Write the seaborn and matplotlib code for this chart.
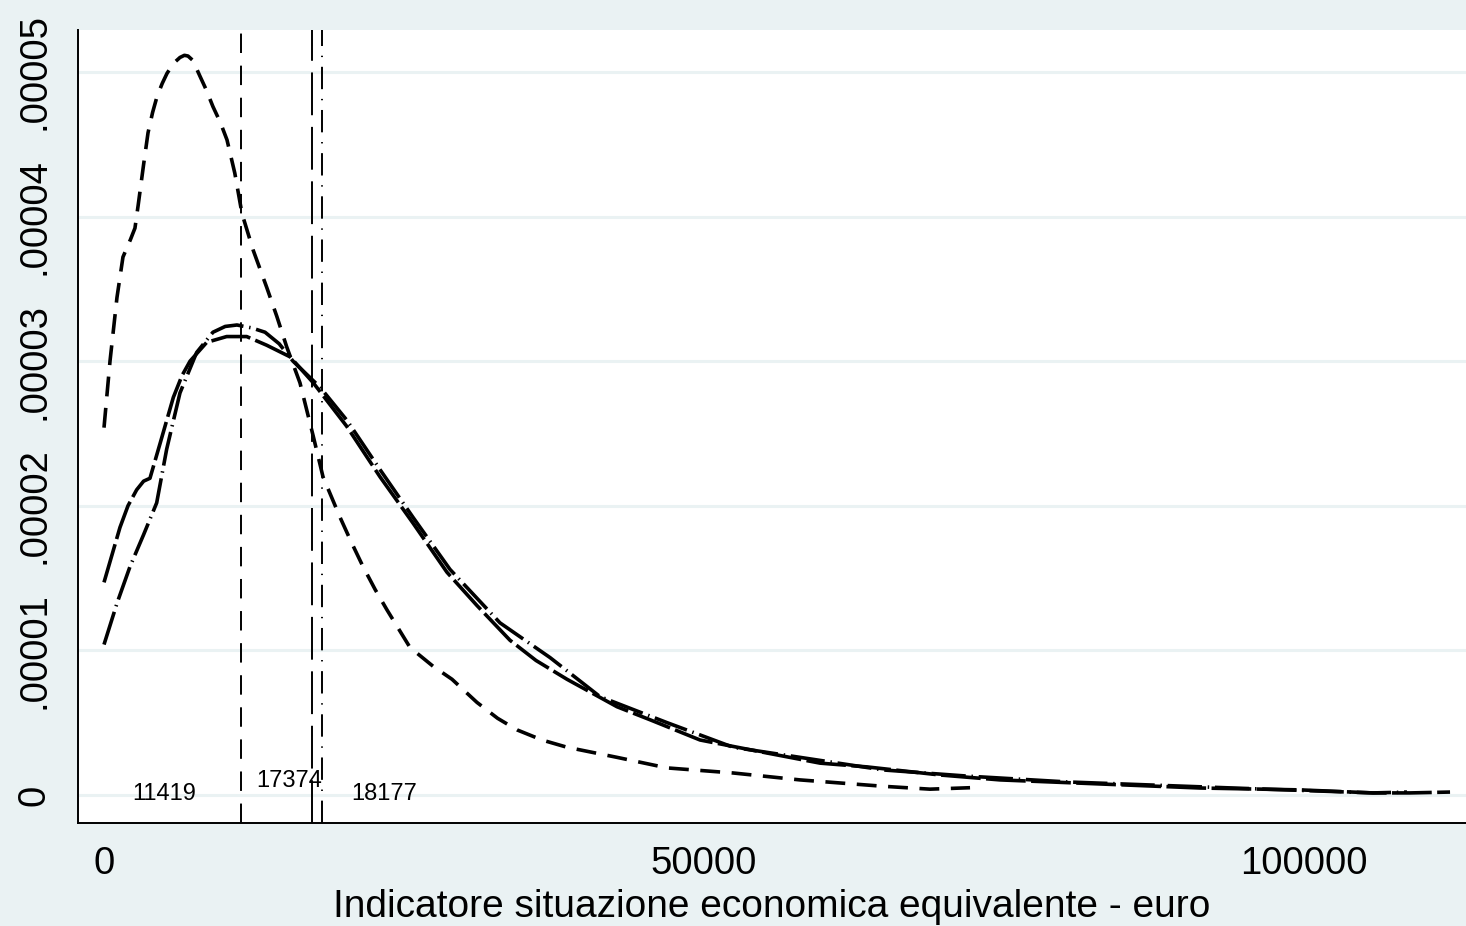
import numpy as np
import pandas as pd
from matplotlib import pyplot as plt
import seaborn as sns

# density curves (y in units of 1e-5)
short_x = [0, 500, 1080, 1580, 2200, 2580, 2850, 3300, 3670, 4050, 4420, 4850, 5250, 5800,
           6330, 6700, 7000, 7400, 8000, 8500, 9080, 9700, 10250, 10900, 11500, 12420, 13560,
           14400, 15220, 16330, 17440, 18250, 19670, 20600, 21580, 22600, 23580, 25500,
           27420, 29000, 31080, 32800, 34420, 36500, 38580, 42750, 46920, 52420, 58000,
           64920, 68830, 72170]
short_y = [2.54, 3.0, 3.44, 3.72, 3.84, 3.92, 4.08, 4.36, 4.58, 4.72, 4.83, 4.92, 4.99, 5.06,
           5.1, 5.115, 5.11, 5.08, 4.97, 4.88, 4.76, 4.65, 4.53, 4.3, 4.02, 3.77, 3.51,
           3.31, 3.1, 2.85, 2.48, 2.2, 1.92, 1.75, 1.58, 1.42, 1.28, 1.02,
           0.89, 0.8, 0.64, 0.53, 0.45, 0.38, 0.33, 0.26, 0.187, 0.152, 0.104,
           0.06, 0.04, 0.05]

long_x = [0, 700, 1330, 2000, 2720, 3300, 3830, 4670, 5780, 6500, 7170, 8560, 10220, 11890,
          13560, 15500, 17440, 20220, 23000, 25750, 28580, 31080, 33830, 36000, 38580, 42750,
          45500, 49670, 55250, 59670, 63580, 69670, 74670, 83000, 91330, 99670, 105750,
          108830, 112170]
long_y = [1.47, 1.67, 1.85, 2.0, 2.11, 2.17, 2.19, 2.43, 2.75, 2.9, 3.0, 3.13, 3.17, 3.17,
          3.11, 3.03, 2.85, 2.55, 2.2, 1.88, 1.54, 1.31, 1.07, 0.93, 0.8, 0.61,
          0.52, 0.38, 0.29, 0.22, 0.194, 0.138, 0.104, 0.076, 0.048, 0.035, 0.014,
          0.014, 0.02]

dashdot_x = [0, 1100, 2170, 3300, 4390, 5220, 6330, 7720, 9080, 10100, 11080, 12300, 13420,
             14600, 15750, 18000, 20250, 23000, 25750, 28830, 33000, 37170, 41330, 46920,
             52420, 58000, 64920, 72000, 80250, 94080, 105750, 108580]
dashdot_y = [1.04, 1.33, 1.58, 1.8, 2.02, 2.39, 2.78, 3.06, 3.2, 3.24, 3.25, 3.23, 3.2,
             3.12, 3.0, 2.82, 2.59, 2.25, 1.92, 1.56, 1.19, 0.95, 0.68, 0.5,
             0.33, 0.26, 0.173, 0.13, 0.09, 0.048, 0.014, 0.02]

# reference values marked with vertical lines
ref_values = [11419, 17374, 18177]
ref_labels = ['11419', '17374', '18177']

y_ticks = [0, 1, 2, 3, 4, 5]
y_tick_labels = ['0', '.00001', '.00002', '.00003', '.00004', '.00005']
x_ticks = [0, 50000, 100000]
x_tick_labels = ['0', '50000', '100000']

bg = '#eaf2f3'

sns.set_style('white')
plt.rcParams['font.family'] = ['Liberation Sans', 'DejaVu Sans']
plt.rcParams['text.color'] = 'black'
plt.rcParams['axes.labelcolor'] = 'black'

fig = plt.figure(figsize=(14.66, 9.26), dpi=100, facecolor=bg)
ax = fig.add_axes([78 / 1466, 103 / 926, 1 - 78 / 1466, (823 - 30) / 926])
ax.set_facecolor('white')

lw = 2.6
df_short = pd.DataFrame({'x': short_x, 'y': np.array(short_y) * 1e-5})
df_long = pd.DataFrame({'x': long_x, 'y': np.array(long_y) * 1e-5})
df_dd = pd.DataFrame({'x': dashdot_x, 'y': np.array(dashdot_y) * 1e-5})

sns.lineplot(data=df_short, x='x', y='y', ax=ax, color='black', lw=lw,
             linestyle=(0, (5.5, 3.2)))
sns.lineplot(data=df_long, x='x', y='y', ax=ax, color='black', lw=lw,
             linestyle=(0, (11, 1.5)))
sns.lineplot(data=df_dd, x='x', y='y', ax=ax, color='black', lw=lw,
             linestyle=(0, (9.5, 1.6, 0.4, 1.6)))

vstyles = [(0, (10, 6.5)), (0, (22, 6)), (0, (11.5, 5, 0.7, 5))]
for v, ls in zip(ref_values, vstyles):
    ax.axvline(v, color='black', lw=1.4, linestyle=ls)

ax.text(5000, 0.01e-5, ref_labels[0], ha='center', va='center', fontsize=17)
ax.text(15420, 0.093e-5, ref_labels[1], ha='center', va='center', fontsize=17)
ax.text(23340, 0.01e-5, ref_labels[2], ha='center', va='center', fontsize=17)

ax.set_xlim(-2167, 113500)
ax.set_ylim(-0.194e-5, 5.29e-5)

for t in y_ticks:
    ax.axhline(t * 1e-5, color=bg, lw=2.2, zorder=0)

ax.set_yticks(np.array(y_ticks) * 1e-5)
ax.set_yticklabels(y_tick_labels, rotation=90, va='center')
ax.set_xticks(x_ticks)
ax.set_xticklabels(x_tick_labels)
ax.tick_params(axis='both', direction='out', length=10.5, width=1.4, color='black',
               labelsize=27.5, labelcolor='black')
ax.tick_params(axis='y', pad=8)
ax.tick_params(axis='x', pad=6)

for s in ['top', 'right']:
    ax.spines[s].set_visible(False)
for s in ['left', 'bottom']:
    ax.spines[s].set_color('black')
    ax.spines[s].set_linewidth(1.4)

ax.set_xlabel('Indicatore situazione economica equivalente - euro', fontsize=28, labelpad=5)
ax.set_ylabel('')

fig.savefig('out.png', dpi=100, facecolor=bg)
